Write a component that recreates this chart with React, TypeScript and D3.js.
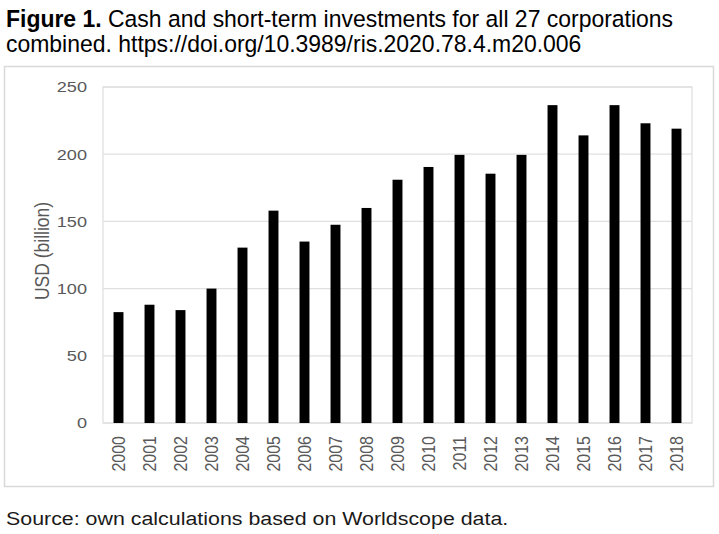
import React, { useEffect, useRef } from 'react';
import * as d3 from 'd3';

const years = ['2000', '2001', '2002', '2003', '2004', '2005', '2006', '2007', '2008', '2009',
  '2010', '2011', '2012', '2013', '2014', '2015', '2016', '2017', '2018'];
const cashValues = [82.5, 88, 84, 100, 130.5, 158, 135, 147.5, 160, 181, 190.5, 199.5, 185.5, 199.5,
  236.5, 214, 236.5, 223, 219];
const yTicks = [0, 50, 100, 150, 200, 250];

const W = 719;
const H = 534;
const font = '"Liberation Sans", Arial, sans-serif';
// the chart text in the figure is drawn a bit wider than Arial
const stretch = 1.17;

const App: React.FC = () => {
  const svgRef = useRef<SVGSVGElement | null>(null);

  useEffect(() => {
    if (!svgRef.current) return;
    const svg = d3.select(svgRef.current);
    svg.selectAll('*').remove();

    const plot = { left: 103, right: 692, top: 87, bottom: 423 };

    // chart frame
    svg.append('rect')
      .attr('x', 4.5).attr('y', 66.5)
      .attr('width', 709).attr('height', 420)
      .attr('fill', 'white').attr('stroke', '#d9d9d9').attr('stroke-width', 1.5);

    const x = d3.scaleBand()
      .domain(years)
      .range([plot.left, plot.right])
      .paddingInner(0.68)
      .paddingOuter(0.34);

    const y = d3.scaleLinear()
      .domain([0, 250])
      .range([plot.bottom, plot.top]);

    // gridlines
    svg.append('g')
      .selectAll('line')
      .data(yTicks)
      .enter().append('line')
        .attr('x1', plot.left).attr('x2', plot.right)
        .attr('y1', d => y(d)).attr('y2', d => y(d))
        .attr('stroke', '#e0e0e0').attr('stroke-width', 1.3);

    // plot border
    svg.append('rect')
      .attr('x', plot.left).attr('y', plot.top)
      .attr('width', plot.right - plot.left).attr('height', plot.bottom - plot.top)
      .attr('fill', 'none').attr('stroke', '#e0e0e0').attr('stroke-width', 1.3);

    // bars
    svg.append('g')
      .selectAll('rect')
      .data(cashValues)
      .enter().append('rect')
        .attr('x', (_d, i) => x(years[i]) || 0)
        .attr('y', d => y(d))
        .attr('width', x.bandwidth())
        .attr('height', d => y(0) - y(d))
        .attr('fill', 'black');

    // y axis
    const yAxis = svg.append('g')
      .attr('transform', `translate(${plot.left - 16},0)`)
      .call(d3.axisLeft(y).tickValues(yTicks).tickSize(0).tickPadding(0));
    yAxis.select('.domain').remove();
    yAxis.selectAll('text')
      .attr('font-family', font).attr('font-size', 15.5).attr('fill', '#595959')
      .attr('x', 0)
      .attr('transform', `scale(${stretch},1)`);

    // x axis
    const xAxis = svg.append('g')
      .attr('transform', `translate(0,${plot.bottom})`)
      .call(d3.axisBottom(x).tickSize(0).tickPadding(0));
    xAxis.select('.domain').remove();
    xAxis.selectAll('text')
      .attr('font-family', font).attr('font-size', 16).attr('fill', '#595959')
      .attr('transform', `scale(${stretch},1) rotate(-90)`)
      .attr('text-anchor', 'end')
      .attr('x', -13).attr('y', 0).attr('dy', '0.35em');

    // axis title
    svg.append('text')
      .attr('transform', `translate(49,${(plot.top + plot.bottom) / 2 - 4}) scale(${stretch},1) rotate(-90)`)
      .attr('text-anchor', 'middle')
      .attr('font-family', font).attr('font-size', 17.5).attr('fill', '#595959')
      .text('USD (billion)');

    // figure caption
    const title = svg.append('text')
      .attr('transform', 'translate(6,0) scale(0.945,1)')
      .attr('font-family', font).attr('font-size', 24.3).attr('fill', 'black');
    const l1 = title.append('tspan').attr('x', 0).attr('y', 26.7);
    l1.append('tspan').attr('font-weight', 'bold').text('Figure 1.');
    l1.append('tspan').text(' Cash and short-term investments for all 27 corporations');
    title.append('tspan').attr('x', 0).attr('y', 52.3)
      .text('combined. https://doi.org/10.3989/ris.2020.78.4.m20.006');

    svg.append('text')
      .attr('transform', 'translate(6,525) scale(1.15,1)')
      .attr('font-family', font).attr('font-size', 18.6).attr('fill', '#1a1a1a')
      .text('Source: own calculations based on Worldscope data.');
  }, []);

  return (
    <svg ref={svgRef} width={W} height={H}
      style={{ position: 'absolute', left: 0, top: 0, background: 'white' }} />
  );
};

export default App;
